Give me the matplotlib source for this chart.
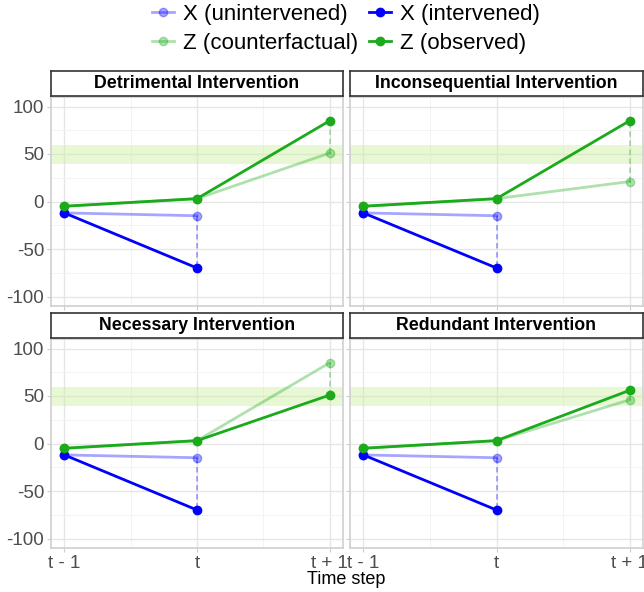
import matplotlib.pyplot as plt
from matplotlib.lines import Line2D

plt.rcParams['font.family'] = ['Liberation Sans', 'DejaVu Sans']

# data
titles = ["Detrimental Intervention", "Inconsequential Intervention",
          "Necessary Intervention", "Redundant Intervention"]
steps = [0, 1, 2]
step_labels = ["t - 1", "t", "t + 1"]
x_unintervened = [-12, -15]
x_intervened = [-12, -70]
z_before = [-5, 3]
z_counterfactual = [51, 21, 85, 46]
z_observed = [85, 85, 51, 56]
band = (40, 60)

blue = '#0000FF'
green = '#1AAA1A'
fade = 0.35

fig = plt.figure(figsize=(6.44, 5.92), dpi=100)
W, H = 644, 592

lefts = [51, 350]
rights = [343, 643]
panel_rows = [(97, 306), (339, 548)]
strip_rows = [(71, 96), (313, 338)]

for i, title in enumerate(titles):
    r, c = divmod(i, 2)
    x0, x1 = lefts[c], rights[c]
    top, bot = panel_rows[r]
    ax = fig.add_axes([x0 / W, 1 - bot / H, (x1 - x0) / W, (bot - top) / H])

    # strip
    st, sb = strip_rows[r]
    sax = fig.add_axes([x0 / W, 1 - sb / H, (x1 - x0) / W, (sb - st) / H])
    sax.set_xticks([]); sax.set_yticks([])
    for s in sax.spines.values():
        s.set_color('#333333'); s.set_linewidth(1.2)
    sax.text(0.5, 0.5, title, ha='center', va='center', fontsize=12.8,
             fontweight='bold', transform=sax.transAxes)

    ax.axhspan(band[0], band[1], color='#cdeea0', alpha=0.45, lw=0, zorder=1)

    # X
    ax.plot(steps[:2], x_unintervened, color=blue, alpha=fade, lw=2,
            marker='o', ms=6, zorder=3)
    ax.plot([steps[1], steps[1]], [x_unintervened[1], x_intervened[1]],
            color=blue, alpha=fade, lw=1.3, ls=(0, (3, 2)), zorder=2)
    ax.plot(steps[:2], x_intervened, color=blue, lw=2, marker='o', ms=6,
            zorder=4)
    # Z
    ax.plot(steps, z_before + [z_counterfactual[i]], color=green, alpha=fade,
            lw=2, marker='o', ms=6, zorder=3)
    ax.plot([steps[2], steps[2]], [z_counterfactual[i], z_observed[i]],
            color=green, alpha=fade, lw=1.3, ls=(0, (3, 2)), zorder=2)
    ax.plot(steps, z_before + [z_observed[i]], color=green, lw=2,
            marker='o', ms=6, zorder=4)

    ax.set_xlim(-0.1, 2.1)
    ax.set_ylim(-110, 110)
    ax.set_xticks(steps)
    ax.set_xticks([0.5, 1.5], minor=True)
    ax.set_yticks([-100, -50, 0, 50, 100])
    ax.set_yticks([-75, -25, 25, 75], minor=True)
    ax.grid(which='major', color='#e6e6e6', lw=1.0, zorder=0)
    ax.grid(which='minor', color='#f3f3f3', lw=0.7, zorder=0)
    ax.set_axisbelow(True)
    for s in ax.spines.values():
        s.set_color('#d0d0d0'); s.set_linewidth(1.2)
    ax.tick_params(which='major', length=3, color='#cccccc',
                   labelsize=13.5, labelcolor='#4d4d4d', pad=2)
    ax.tick_params(which='minor', length=0)
    if r == 1:
        ax.set_xticklabels(step_labels)
    else:
        ax.set_xticklabels([])
    if c == 0:
        ax.set_yticklabels([str(v) for v in [-100, -50, 0, 50, 100]])
    else:
        ax.set_yticklabels([])

fig.text(346 / W, 1 - 580 / H, "Time step", ha='center', va='center',
         fontsize=13)

handles = [
    Line2D([], [], color=blue, alpha=fade, lw=2, marker='o', ms=6),
    Line2D([], [], color=green, alpha=fade, lw=2, marker='o', ms=6),
    Line2D([], [], color=blue, lw=2, marker='o', ms=6),
    Line2D([], [], color=green, lw=2, marker='o', ms=6),
]
labels = ["X (unintervened)", "Z (counterfactual)", "X (intervened)",
          "Z (observed)"]
fig.legend(handles, labels, ncol=2, loc='center', bbox_to_anchor=(346 / W, 1 - 29 / H),
           frameon=False, fontsize=16, handlelength=1.0, handletextpad=0.4,
           columnspacing=0.5, labelspacing=0.35, borderpad=0)

fig.savefig('out.png', dpi=100)
